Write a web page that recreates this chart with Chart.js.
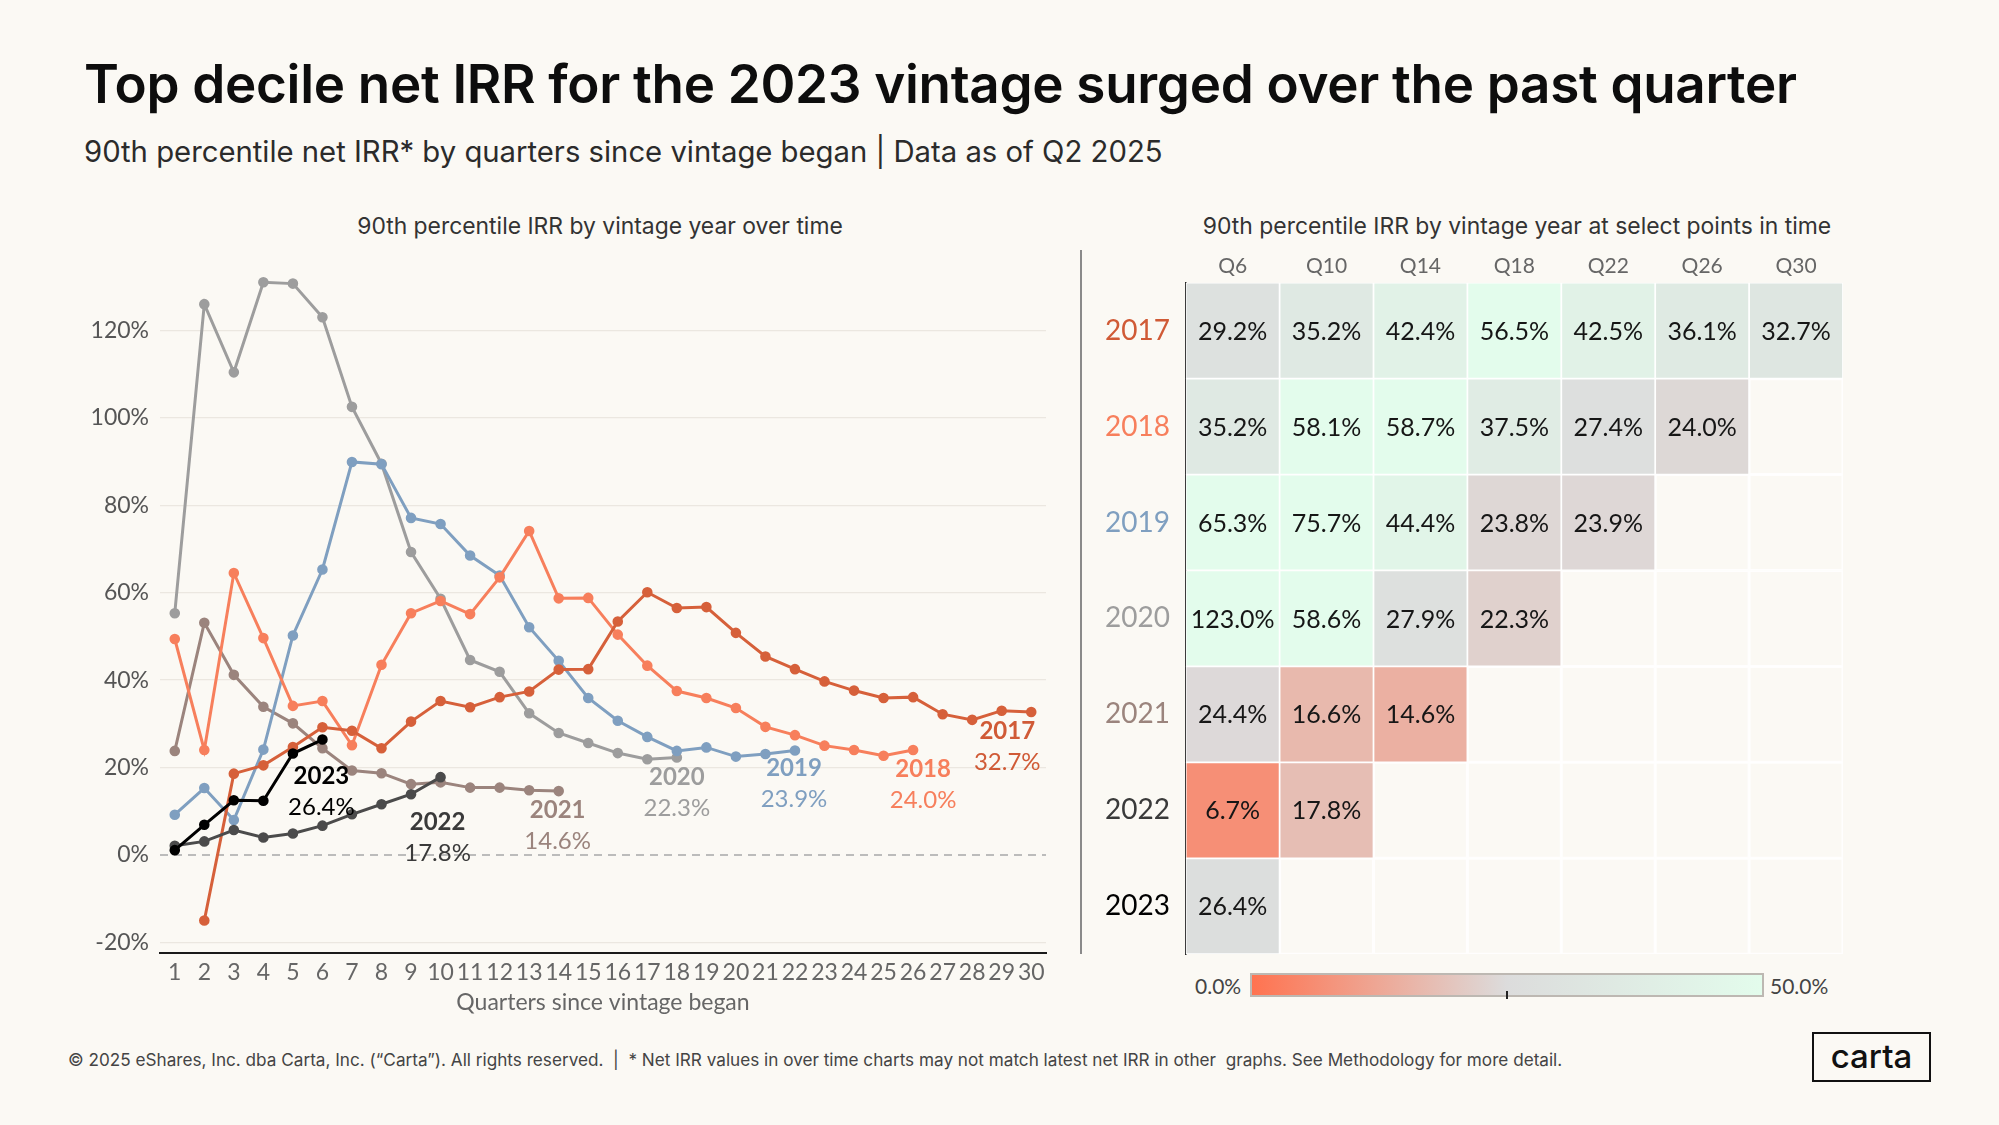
<!DOCTYPE html>
<html>
<head>
<meta charset="utf-8">
<script src="https://cdn.jsdelivr.net/npm/chart.js@4.4.1/dist/chart.umd.min.js"></script>
<style>
  body { margin: 0; width: 1999px; height: 1125px; overflow: hidden; position: relative; background: #fbf9f4; font-family: Lato, sans-serif; color: #111; }
  .t { position: absolute; white-space: nowrap; line-height: 1; }
  .fit { font-family: Inter, sans-serif; }
  #title { left: 84px; font-size: 52px; font-weight: 600; color: #0d0d0d; letter-spacing: -0.3px; }
  #subtitle { left: 84px; font-size: 30px; font-weight: 400; color: #2b2b2b; }
  .panel-title { font-size: 22px; color: #333; transform: translateX(-50%); }
  #footer { left: 68px; font-size: 16px; color: #444; }
  #sep { position: absolute; left: 1080px; top: 250px; width: 2px; height: 704px; background: #8a8a8a; }
  #lineWrap { position: absolute; left: 60px; top: 239.5px; }
  #heatWrap { position: absolute; left: 1100px; top: 240px; }
  #scaleBar { position: absolute; left: 1250px; top: 973px; width: 510px; height: 20px; border: 2px solid #bdb8b2;
    background: linear-gradient(to right, #ff7350, #dcdcdc 50%, #e3fcec); }
  #scaleTick { position: absolute; left: 1506px; top: 991px; width: 2px; height: 8px; background: #222; }
  .scale-lbl { top: 975px; font-size: 21px; color: #444; }
  #logo { position: absolute; left: 1812px; top: 1032px; width: 115px; height: 46px; border: 2.5px solid #111;
    font-family: Inter, sans-serif; font-size: 33px; font-weight: 500; text-align: center; line-height: 44px; color: #111; }
</style>
</head>
<body>
<div class="t fit" id="title">Top decile net IRR for the 2023 vintage surged over the past quarter</div>
<div class="t fit" id="subtitle">90th percentile net IRR* by quarters since vintage began | Data as of Q2 2025</div>
<div class="t fit panel-title" id="leftTitle" style="left:600px">90th percentile IRR by vintage year over time</div>
<div class="t fit panel-title" id="rightTitle" style="left:1517px">90th percentile IRR by vintage year at select points in time</div>
<div id="sep"></div>
<div id="lineWrap"><canvas id="lineChart" width="1000" height="780"></canvas></div>
<div id="heatWrap"><canvas id="heatChart" width="760" height="731"></canvas></div>
<div class="t scale-lbl" style="left:1195px">0.0%</div>
<div id="scaleBar"></div>
<div id="scaleTick"></div>
<div class="t scale-lbl" style="left:1770px">50.0%</div>
<div class="t fit" id="footer">© 2025 eShares, Inc. dba Carta, Inc. (“Carta”). All rights reserved. &nbsp;| &nbsp;* Net IRR values in over time charts may not match latest net IRR in other &nbsp;graphs. See Methodology for more detail.</div>
<div id="logo">carta</div>

<script>
/* Data */
const quarters = ['1','2','3','4','5','6','7','8','9','10','11','12','13','14','15','16','17','18','19','20','21','22','23','24','25','26','27','28','29','30'];
const vintages = ['2017', '2018', '2019', '2020', '2021', '2022', '2023'];

// 90th percentile net IRR (%) by quarter since vintage began
const irr2017 = [null, -15.0, 18.6, 20.5, 24.7, 29.2, 28.4, 24.4, 30.5, 35.2, 33.8, 36.1, 37.4, 42.4, 42.5, 53.4, 60.1, 56.5, 56.7, 50.8, 45.4, 42.5, 39.7, 37.6, 35.9, 36.1, 32.2, 30.9, 33.0, 32.7];
const irr2018 = [49.4, 24.0, 64.5, 49.6, 34.1, 35.2, 25.1, 43.5, 55.3, 58.1, 55.1, 63.5, 74.1, 58.7, 58.8, 50.4, 43.3, 37.5, 35.9, 33.6, 29.3, 27.4, 25.0, 24.0, 22.7, 24.0];
const irr2019 = [9.2, 15.3, 8.0, 24.1, 50.2, 65.3, 89.9, 89.4, 77.1, 75.7, 68.5, 63.9, 52.1, 44.4, 35.9, 30.7, 27.0, 23.8, 24.6, 22.5, 23.1, 23.9];
const irr2020 = [55.3, 126.0, 110.4, 131.0, 130.7, 123.0, 102.5, 89.5, 69.3, 58.6, 44.6, 41.9, 32.4, 27.9, 25.6, 23.3, 21.9, 22.3];
const irr2021 = [23.8, 53.1, 41.2, 33.9, 30.1, 24.4, 19.3, 18.7, 16.2, 16.6, 15.4, 15.4, 14.8, 14.6];
const irr2022 = [2.1, 3.1, 5.7, 4.0, 4.9, 6.7, 9.3, 11.6, 13.9, 17.8];
const irr2023 = [1.1, 6.9, 12.5, 12.4, 23.2, 26.4];

// select points in time shown in the table
const snapshotQuarters = [6, 10, 14, 18, 22, 26, 30];
const snapshotLabels = ['Q6', 'Q10', 'Q14', 'Q18', 'Q22', 'Q26', 'Q30'];

const yTicks = [-20, 0, 20, 40, 60, 80, 100, 120];

/* Styles */
const seriesColors = ['#d6603a', '#f77f5c', '#7f9fc0', '#9d9d9d', '#9b847d', '#4b4b4b', '#000000'];
const endLabelColors = ['#d05a36', '#f77f5c', '#7f9fc0', '#9d9d9d', '#9b847d', '#3a3a3a', '#000000'];
const drawOrder = [2, 3, 4, 5, 6, 1, 0];
// label position relative to the last point of each line [dx, dy]
const endLabelOffset = [[-24, 19], [10, 19], [-1, 18], [0, 20], [-1, 19], [-3, 45], [-1, 37]];

const allSeries = [irr2017, irr2018, irr2019, irr2020, irr2021, irr2022, irr2023];
const pct = v => v.toFixed(1) + '%';

// size a text block to the width it has in the reference and set it on its baseline
function placeText(id, baseline, width) {
  const el = document.getElementById(id);
  let size = parseFloat(getComputedStyle(el).fontSize);
  size *= width / el.getBoundingClientRect().width;
  el.style.fontSize = size + 'px';
  el.style.top = (baseline - 0.864 * size) + 'px';
}
placeText('title', 103.5, 1713);
placeText('subtitle', 162.5, 1079);
placeText('leftTitle', 235, 486);
placeText('rightTitle', 235, 629);
placeText('footer', 1066, 1496);

function heatColor(v) {
  const stops = [[255, 115, 80], [220, 220, 220], [227, 252, 236]];
  const t = Math.max(0, Math.min(50, v)) / 50;
  const a = t < 0.5 ? stops[0] : stops[1];
  const b = t < 0.5 ? stops[1] : stops[2];
  const f = t < 0.5 ? t * 2 : (t - 0.5) * 2;
  const c = a.map((x, i) => Math.round(x + (b[i] - x) * f));
  return `rgb(${c[0]},${c[1]},${c[2]})`;
}

/* Line chart */
const zeroLine = {
  id: 'zeroLine',
  beforeDatasetsDraw(chart) {
    const { ctx, chartArea, scales } = chart;
    const y = scales.y.getPixelForValue(0);
    ctx.save();
    ctx.strokeStyle = '#a8a8a8';
    ctx.lineWidth = 1.5;
    ctx.setLineDash([8, 6]);
    ctx.beginPath();
    ctx.moveTo(chartArea.left, y);
    ctx.lineTo(chartArea.right, y);
    ctx.stroke();
    ctx.restore();
  }
};

const endLabels = {
  id: 'endLabels',
  afterDatasetsDraw(chart) {
    const ctx = chart.ctx;
    ctx.save();
    ctx.textAlign = 'center';
    ctx.textBaseline = 'middle';
    chart.data.datasets.forEach((ds, i) => {
      const pts = chart.getDatasetMeta(i).data;
      const last = ds.data.length - 1;
      const p = pts[last];
      const [dx, dy] = endLabelOffset[i];
      ctx.fillStyle = endLabelColors[i];
      ctx.font = '700 24px Lato';
      ctx.fillText(vintages[i], p.x + dx, p.y + dy);
      ctx.font = '400 24px Lato';
      ctx.fillText(pct(ds.data[last]), p.x + dx, p.y + dy + 31);
    });
    ctx.restore();
  }
};

new Chart(document.getElementById('lineChart'), {
  type: 'line',
  data: {
    labels: quarters,
    datasets: allSeries.map((s, i) => ({
      label: vintages[i],
      data: s,
      borderColor: seriesColors[i],
      backgroundColor: seriesColors[i],
      borderWidth: 3,
      pointRadius: 3.8,
      pointHoverRadius: 3.8,
      tension: 0,
      order: drawOrder[i]
    }))
  },
  options: {
    responsive: false,
    animation: false,
    layout: { padding: { top: 16.4, right: 14, bottom: 0, left: 0 } },
    plugins: { legend: { display: false }, tooltip: { enabled: false } },
    scales: {
      x: {
        offset: true,
        grid: { display: false, drawTicks: false },
        border: { display: true, color: '#1a1a1a', width: 2 },
        ticks: { autoSkip: false, maxRotation: 0, padding: 5, color: '#666', font: { family: 'Lato', size: 23 } },
        title: { display: true, text: 'Quarters since vintage began', color: '#666', padding: { top: 4, bottom: 4 }, font: { family: 'Lato', size: 23 } },
        afterFit(scale) { scale.height = 66.7; }
      },
      y: {
        min: -22.5,
        max: 135,
        afterBuildTicks(scale) { scale.ticks = yTicks.map(v => ({ value: v })); },
        grid: { drawTicks: false, lineWidth: 1.2, color: ctx => ctx.tick && ctx.tick.value === 0 ? 'rgba(0,0,0,0)' : '#ebe7e0' },
        border: { display: false },
        ticks: { padding: 11, color: '#555', font: { family: 'Lato', size: 23 }, callback: v => v + '%' },
        afterFit(scale) { scale.width = 100; }
      }
    }
  },
  plugins: [zeroLine, endLabels]
});

/* Heatmap */
const tableRows = allSeries.map(s => snapshotQuarters.map(q => (s[q - 1] === undefined ? null : s[q - 1])));

const cellLabels = {
  id: 'cellLabels',
  afterDatasetsDraw(chart) {
    const ctx = chart.ctx;
    ctx.save();
    ctx.textAlign = 'center';
    ctx.textBaseline = 'middle';
    ctx.fillStyle = '#161616';
    ctx.font = '400 25px Lato';
    tableRows.forEach((row, i) => {
      const bars = chart.getDatasetMeta(i).data;
      row.forEach((v, j) => {
        if (v === null) return;
        const b = bars[j];
        ctx.fillText(pct(v), b.x, (b.y + b.base) / 2 + 1);
      });
    });
    ctx.restore();
  }
};

new Chart(document.getElementById('heatChart'), {
  type: 'bar',
  data: {
    labels: snapshotLabels,
    datasets: tableRows.map((row, i) => ({
      label: vintages[i],
      data: row.map(() => [i, i + 1]),
      backgroundColor: row.map(v => (v === null ? 'rgba(0,0,0,0)' : heatColor(v))),
      borderColor: row.map(v => (v === null ? 'rgba(255,255,255,0.85)' : '#ffffff')),
      borderWidth: 1.2,
      borderSkipped: false,
      grouped: false,
      barPercentage: 1,
      categoryPercentage: 1
    }))
  },
  options: {
    responsive: false,
    animation: false,
    layout: { padding: { top: 0, right: 17, bottom: 2.7, left: 5 } },
    plugins: { legend: { display: false }, tooltip: { enabled: false } },
    scales: {
      x: {
        position: 'top',
        grid: { display: false, drawTicks: false },
        border: { display: false },
        ticks: { padding: 4, color: '#666', font: { family: 'Lato', size: 21 } },
        afterFit(scale) { scale.height = 42.7; }
      },
      y: {
        min: 0,
        max: 7,
        reverse: true,
        afterBuildTicks(scale) { scale.ticks = vintages.map((v, i) => ({ value: i + 0.5 })); },
        grid: { display: false, drawTicks: false },
        border: { display: true, color: '#222', width: 1.5 },
        ticks: {
          crossAlign: 'far',
          padding: 0,
          font: { family: 'Lato', size: 28 },
          color: ctx => endLabelColors[ctx.index],
          callback: (v, i) => vintages[i]
        },
        afterFit(scale) { scale.width = 80.7; }
      }
    }
  },
  plugins: [cellLabels]
});
</script>
</body>
</html>
